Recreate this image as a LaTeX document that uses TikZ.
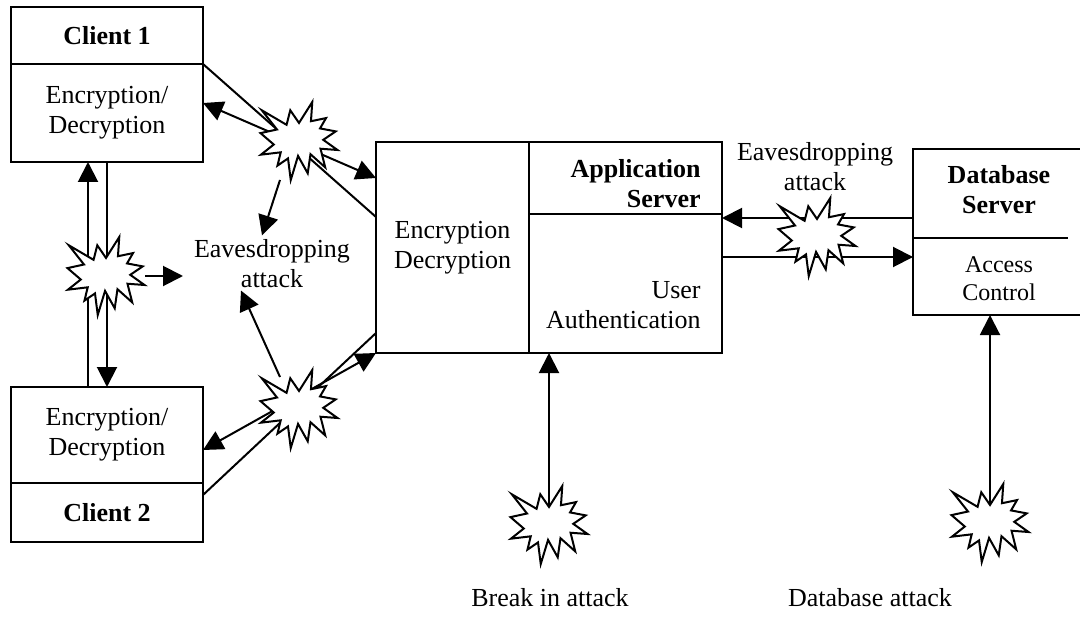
\documentclass[tikz,border=0pt]{standalone}
\usepackage{fontspec}
\setmainfont{Liberation Serif}
\usetikzlibrary{arrows.meta,calc}

\tikzset{
  wire/.style={line width=1pt},
  arr/.style={wire,-{Triangle[length=10pt,width=10pt]}},
  darr/.style={wire,{Triangle[length=10pt,width=10pt]}-{Triangle[length=10pt,width=10pt]}},
  normal/.style={font=\fontsize{13}{15}\selectfont},
  box/.style={draw,line width=1pt,inner sep=0pt,outer sep=0pt,align=center,normal},
  title/.style={box,font=\fontsize{13}{15}\selectfont\bfseries},
  txt/.style={inner sep=0pt,align=center,normal},
  burstline/.style={line width=1pt,draw=black,fill=white,line join=miter}
}

% irregular 12-spike explosion outline centred on a named coordinate,
% points given in percent of its box
\newcommand\drawexplosion[1]{%
  \begin{scope}[shift={(#1)}]
    \filldraw[burstline,xscale=0.77,yscale=0.78]
      (0,-23.15) -- (17.23,-50) -- (15.53,-25.35) -- (35.09,-29.37) --
      (27.32,-16.13) -- (47.67,-12.33) -- (31.51,-1.50) -- (50,11.53) --
      (27.95,9.92) -- (34.00,33.77) -- (14.91,16.93) -- (11.33,41.38) --
      (-1.24,19.14) -- (-10.72,50) -- (-14.28,22.35) -- (-27.95,31.56) --
      (-23.76,14.52) -- (-49.38,17.53) -- (-32.77,4.51) -- (-50,-10.12) --
      (-28.58,-14.74) -- (-48.29,-39.37) -- (-16.15,-20.74) -- (-11.33,-39.37) -- cycle;
  \end{scope}%
}

\begin{document}
\begin{tikzpicture}[x=0.5pt,y=-0.5pt]
  \useasboundingbox (0,0) rectangle (1080,620);
  \fill[white] (0,0) rectangle (1080,620);

  % clients
  \node[title,minimum width=96pt,minimum height=28.5pt] (c1head) at (107,35.5) {Client 1};
  \node[box,minimum width=96pt,minimum height=49pt] (c1body) at (107,113) {Encryption/\\Decryption};
  \node[box,minimum width=96pt,minimum height=48pt] (c2body) at (107,435) {Encryption/\\Decryption};
  \node[title,minimum width=96pt,minimum height=29.5pt] (c2head) at (107,512.5) {Client 2};

  % application server
  \node[box,minimum width=76.5pt,minimum height=105.5pt] (appenc) at (452.5,247.5) {Encryption\\Decryption};
  \node[box,minimum width=96.5pt,minimum height=36pt] (apptitle) at (625.5,178) {};
  \node[box,minimum width=96.5pt,minimum height=69.5pt] (appauth) at (625.5,283.5) {};
  \node[txt,font=\fontsize{13}{15}\selectfont\bfseries,align=right,anchor=east] (apptitletext) at (701,184) {Application\\Server};
  \node[txt,align=right,anchor=east] (appauthtext) at (701,305) {User\\Authentication};

  % database server
  \node[box,minimum width=86pt,minimum height=83pt] (db) at (999,232) {};
  \draw[wire] (913,238) coordinate (dbdiv) -- (1068,238);
  \node[txt,font=\fontsize{13}{15}\selectfont\bfseries] (dbtitle) at (999,190) {Database\\Server};
  \node[txt,font=\fontsize{12}{14}\selectfont] (dbbody) at (999,279) {Access\\Control};

  % free labels
  \node[txt] (eavL) at (272,264) {Eavesdropping\\attack};
  \node[txt] (eavR) at (815,167) {Eavesdropping\\attack};
  \node[txt] (breakL) at (550,598) {Break in attack};
  \node[txt] (dbatkL) at (870,598) {Database attack};

  % burst positions
  \coordinate (bL) at (106,276);
  \coordinate (bU) at (299,141);
  \coordinate (bD) at (299,409);
  \coordinate (bR) at (817,237);
  \coordinate (bM) at (549,525);
  \coordinate (bB) at (990,523);

  % client to client
  \draw[arr] (c1body.south) -- (c2body.north);
  \draw[arr] ($(c2body.north)+(-19,0)$) -- ($(c1body.south)+(-19,0)$);
  \draw[arr] ($(bL)+(39,0)$) -- ($(bL)+(77,0)$);

  % client 1 to application server
  \draw[wire] (c1head.south east) -- ($(appenc.north west)+(0,75)$);
  \draw[darr] ($(c1body.north east)+(0,39)$) -- ($(appenc.north west)+(0,36)$);
  \draw[arr] ($(bU)+(-19,39)$) -- ($(eavL.north)+(-10,-4)$);

  % client 2 to application server
  \draw[wire] ($(c2head.north east)+(0,12)$) -- ($(appenc.south west)+(0,-20)$);
  \draw[darr] ($(c2body.north east)+(0,63)$) -- (appenc.south west);
  \draw[arr] ($(bD)+(-19,-32)$) -- ($(eavL.south)+(-31,2)$);

  % application server and database server
  \draw[arr] ($(db.north west)+(0,69)$) -- ($(apptitle.south east)+(0,4)$);
  \draw[arr] ($(appauth.north east)+(0,43)$) -- ($(db.north west)+(0,108)$);

  % external attacks
  \draw[arr] (bM) -- ($(appauth.south west)+(20,0)$);
  \draw[arr] (bB) -- ($(db.south west)+(77,0)$);

  % bursts on top of the wires
  \drawexplosion{bL}
  \drawexplosion{bU}
  \drawexplosion{bD}
  \drawexplosion{bR}
  \drawexplosion{bM}
  \drawexplosion{bB}
\end{tikzpicture}
\end{document}
